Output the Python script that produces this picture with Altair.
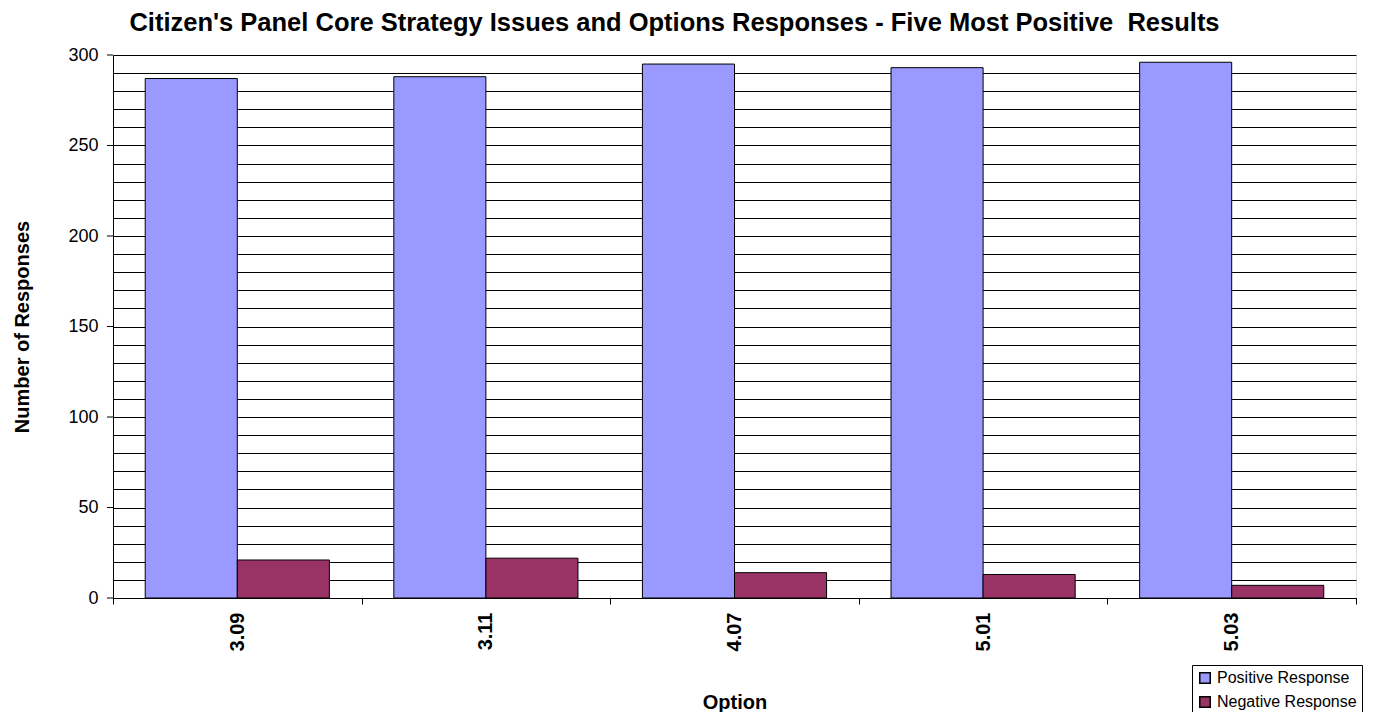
import altair as alt
import pandas as pd

options = ["3.09", "3.11", "4.07", "5.01", "5.03"]
positive = [287, 288, 295, 293, 296]
negative = [21, 22, 14, 13, 7]
series = ["Positive Response", "Negative Response"]
colors = ["#9999FF", "#993366"]
grid_values = list(range(0, 301, 10))
tick_values = list(range(0, 301, 50))

rows = []
for o, p, n in zip(options, positive, negative):
    rows.append({"Option": o, "Series": series[0], "Value": p})
    rows.append({"Option": o, "Series": series[1], "Value": n})
df = pd.DataFrame(rows)

FONT = "Liberation Sans"

yscale = alt.Scale(domain=[0, 300], nice=False)
yaxis = alt.Axis(title="Number of Responses", values=grid_values,
                 labelExpr="datum.value % 50 == 0 ? datum.label : ''",
                 labelOverlap=False,
                 grid=True, gridColor="black", gridOpacity=1, gridWidth=1,
                 ticks=False, labelPadding=15, labelFont=FONT, labelFontSize=18,
                 labelColor="black", domainColor="black",
                 titleFont=FONT, titleFontSize=20, titleFontWeight="bold",
                 titleColor="black", titlePadding=35)

bars = alt.Chart(df).mark_bar(stroke="black", strokeWidth=1).encode(
    x=alt.X("Option:N", sort=options,
            scale=alt.Scale(paddingInner=0, paddingOuter=0),
            axis=alt.Axis(title="Option", labelAngle=-90, labelFontWeight="bold",
                          labelFontSize=20, labelFont=FONT, labelColor="black",
                          labelPadding=8, labelOverlap=False,
                          tickBand="extent", tickColor="black", tickSize=6,
                          domainColor="black", titleFont=FONT, titleFontSize=20,
                          titleFontWeight="bold", titleColor="black", titlePadding=42)),
    xOffset=alt.XOffset("Series:N", sort=series,
                        scale=alt.Scale(paddingInner=0, paddingOuter=0.35)),
    y=alt.Y("Value:Q", scale=yscale, axis=yaxis),
    color=alt.Color("Series:N", sort=series,
                    scale=alt.Scale(domain=series, range=colors),
                    legend=alt.Legend(title=None, orient="none", legendX=1079, legendY=610,
                                      symbolType="square", symbolSize=110,
                                      symbolStrokeColor="black", symbolStrokeWidth=1.5,
                                      labelFont=FONT, labelFontSize=16, labelColor="black",
                                      strokeColor="black", fillColor="white",
                                      padding=5, rowPadding=6, labelOffset=4)),
)

ticks_df = pd.DataFrame({"v": tick_values})
yticks = alt.Chart(ticks_df).mark_rule(color="black", strokeWidth=1).encode(
    x=alt.value(-6), x2=alt.value(0), y=alt.Y("v:Q", scale=yscale, axis=yaxis)
)

chart = alt.layer(bars, yticks).properties(
    width=1243, height=543,
    title=alt.TitleParams("Citizen's Panel Core Strategy Issues and Options Responses - Five Most Positive \u00a0Results",
                          font=FONT, fontSize=25.5, fontWeight="bold", color="black",
                          anchor="middle", dx=-60, offset=10),
    autosize=alt.AutoSizeParams(type="none"),
    padding={"left": 105, "top": 47, "right": 13, "bottom": 114},
).configure_view(stroke="#888888", strokeWidth=1).configure(background="white")

chart.save("out.html", embed_options={"renderer": "svg", "actions": False})
